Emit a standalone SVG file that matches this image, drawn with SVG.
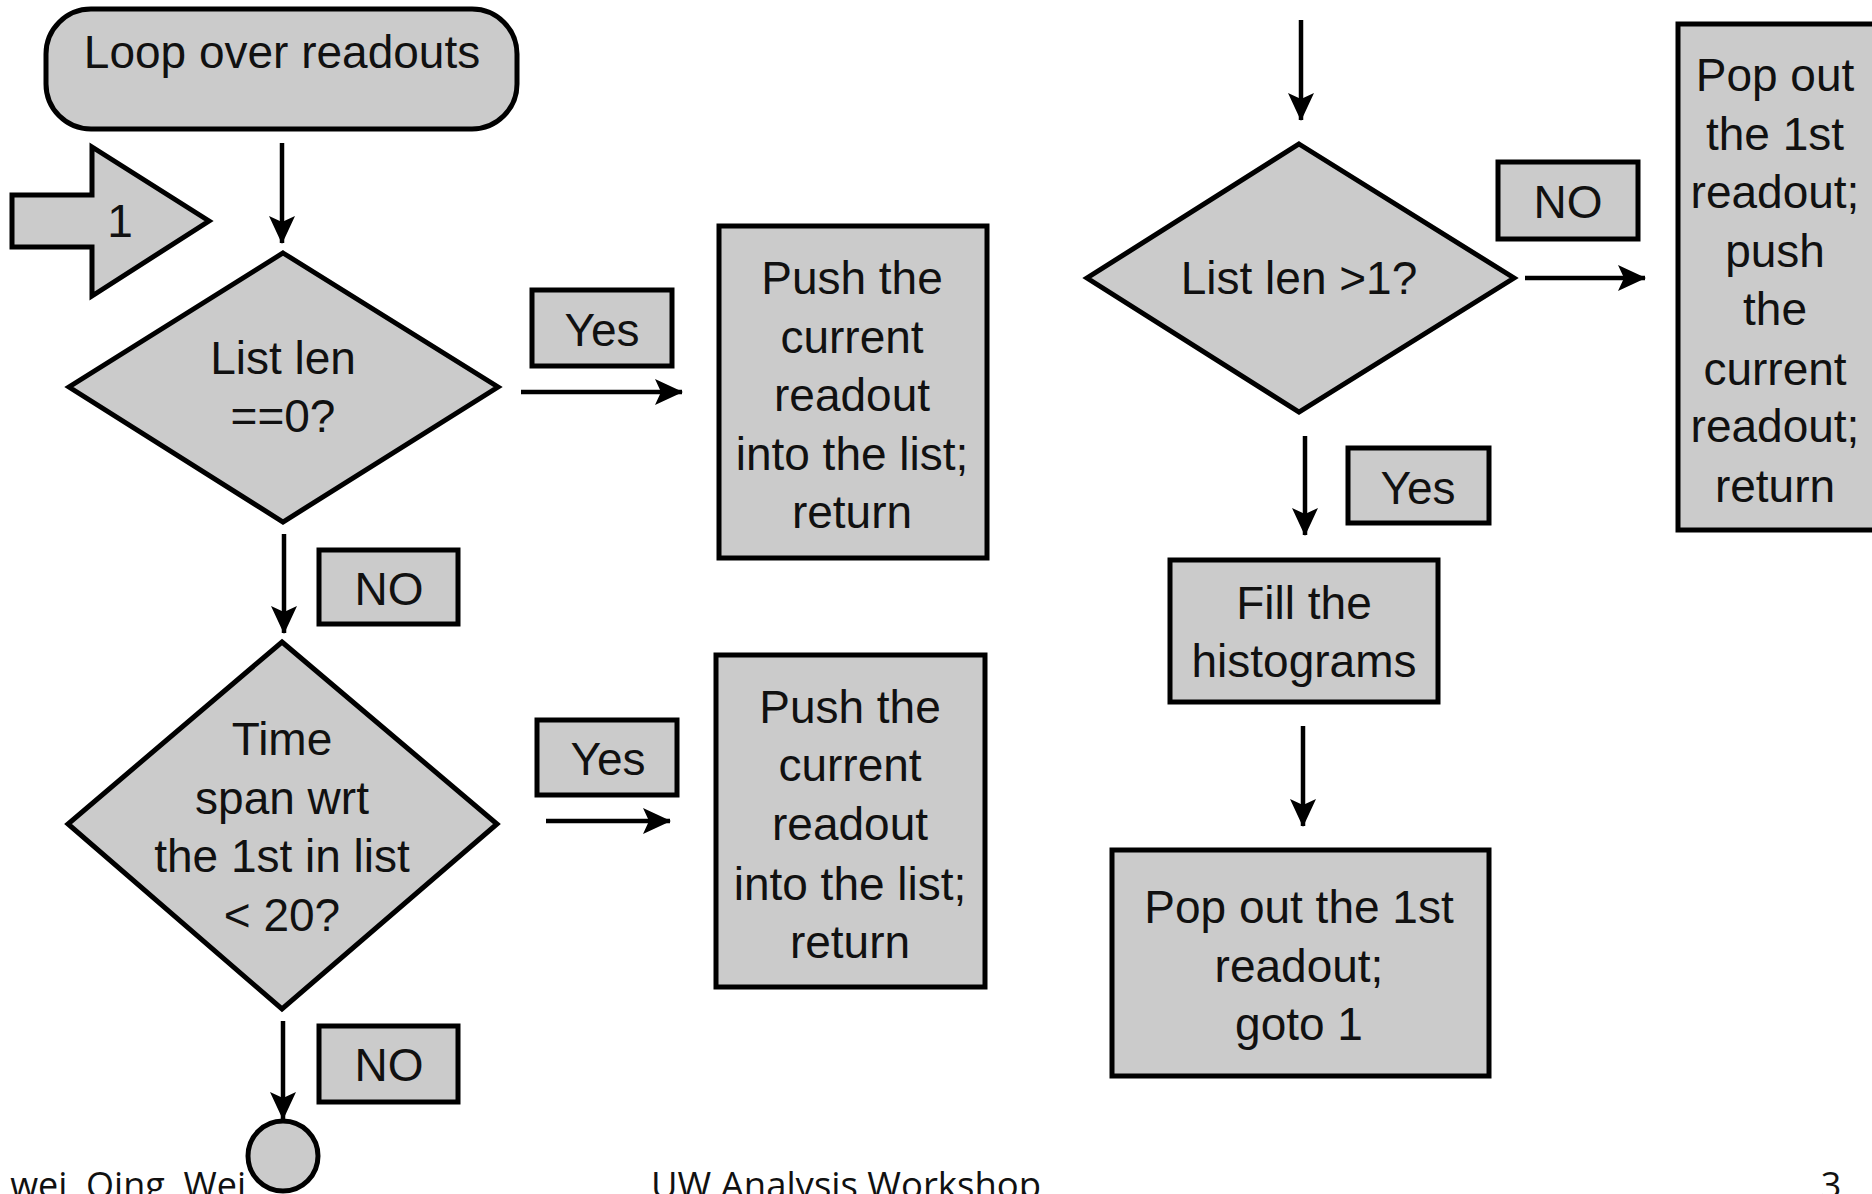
<svg xmlns="http://www.w3.org/2000/svg" width="1872" height="1194" viewBox="0 0 1872 1194">
<style>
.n{fill:#cbcbcb;stroke:#000;stroke-width:5;stroke-linejoin:miter}
.t{font-family:"Liberation Sans",Arial,sans-serif;font-size:46px;fill:#111;text-anchor:middle}
.c{stroke:#000;stroke-width:4.5;fill:none}
.f{font-family:"Open Sans","Liberation Sans",sans-serif;font-size:36px;fill:#111}
</style>
<defs>
<marker id="ah" viewBox="0 0 28 26" refX="27" refY="13" markerWidth="28" markerHeight="26" markerUnits="userSpaceOnUse" orient="auto">
<path d="M0,0 L28,13 L0,26 L6,13 Z" fill="#000"/>
</marker>
</defs>
<rect width="1872" height="1194" fill="#fff"/>

<g id="connectors">
<line class="c" x1="282" y1="143" x2="282" y2="243" marker-end="url(#ah)"/>
<line class="c" x1="521" y1="392" x2="682" y2="392" marker-end="url(#ah)"/>
<line class="c" x1="284" y1="534" x2="284" y2="633" marker-end="url(#ah)"/>
<line class="c" x1="546" y1="821" x2="670" y2="821" marker-end="url(#ah)"/>
<line class="c" x1="283" y1="1021" x2="283" y2="1119" marker-end="url(#ah)"/>
<line class="c" x1="1301" y1="20" x2="1301" y2="120" marker-end="url(#ah)"/>
<line class="c" x1="1525" y1="278" x2="1645" y2="278" marker-end="url(#ah)"/>
<line class="c" x1="1305" y1="436" x2="1305" y2="535" marker-end="url(#ah)"/>
<line class="c" x1="1303" y1="726" x2="1303" y2="826" marker-end="url(#ah)"/>
</g>

<g id="loop">
<rect class="n" x="46" y="9" width="471" height="120" rx="45" ry="45"/>
<text class="t" x="282" y="68">Loop over readouts</text>
</g>

<g id="goto1">
<polygon class="n" points="12,195 92,195 92,147 209,221 92,296 92,247 12,247"/>
<text class="t" x="120" y="237">1</text>
</g>

<g id="diamond1">
<polygon class="n" points="283,253 498,387 283,522 69,387"/>
<text class="t" x="283" y="374">List len</text>
<text class="t" x="283" y="432">==0?</text>
</g>

<g id="yes1">
<rect class="n" x="532" y="290" width="140" height="76"/>
<text class="t" x="602" y="346">Yes</text>
</g>

<g id="push1">
<rect class="n" x="719" y="226" width="268" height="332"/>
<text class="t" x="852" y="294">Push the</text>
<text class="t" x="852" y="353">current</text>
<text class="t" x="852" y="411">readout</text>
<text class="t" x="852" y="470">into the list;</text>
<text class="t" x="852" y="528">return</text>
</g>

<g id="no1">
<rect class="n" x="319" y="550" width="139" height="74"/>
<text class="t" x="389" y="605">NO</text>
</g>

<g id="diamond2">
<polygon class="n" points="282,642 497,824 282,1009 68,824"/>
<text class="t" x="282" y="755">Time</text>
<text class="t" x="282" y="814">span wrt</text>
<text class="t" x="282" y="872">the 1st in list</text>
<text class="t" x="282" y="931">&lt; 20?</text>
</g>

<g id="yes2">
<rect class="n" x="537" y="720" width="140" height="75"/>
<text class="t" x="608" y="775">Yes</text>
</g>

<g id="push2">
<rect class="n" x="716" y="655" width="269" height="332"/>
<text class="t" x="850" y="723">Push the</text>
<text class="t" x="850" y="781">current</text>
<text class="t" x="850" y="840">readout</text>
<text class="t" x="850" y="900">into the list;</text>
<text class="t" x="850" y="958">return</text>
</g>

<g id="no2">
<rect class="n" x="319" y="1026" width="139" height="76"/>
<text class="t" x="389" y="1081">NO</text>
</g>

<g id="end">
<circle class="n" cx="283" cy="1156" r="35"/>
</g>

<g id="diamond3">
<polygon class="n" points="1299,144 1514,278 1299,412 1087,278"/>
<text class="t" x="1299" y="294">List len &gt;1?</text>
</g>

<g id="no3">
<rect class="n" x="1498" y="162" width="140" height="77"/>
<text class="t" x="1568" y="218">NO</text>
</g>

<g id="pop1">
<rect class="n" x="1678" y="24" width="210" height="506"/>
<text class="t" x="1775" y="91">Pop out</text>
<text class="t" x="1775" y="150">the 1st</text>
<text class="t" x="1775" y="208">readout;</text>
<text class="t" x="1775" y="267">push</text>
<text class="t" x="1775" y="325">the</text>
<text class="t" x="1775" y="385">current</text>
<text class="t" x="1775" y="442">readout;</text>
<text class="t" x="1775" y="502">return</text>
</g>

<g id="yes3">
<rect class="n" x="1348" y="448" width="141" height="75"/>
<text class="t" x="1418" y="504">Yes</text>
</g>

<g id="fill">
<rect class="n" x="1170" y="560" width="268" height="142"/>
<text class="t" x="1304" y="619">Fill the</text>
<text class="t" x="1304" y="677">histograms</text>
</g>

<g id="pop2">
<rect class="n" x="1112" y="850" width="377" height="226"/>
<text class="t" x="1299" y="923">Pop out the 1st</text>
<text class="t" x="1299" y="982">readout;</text>
<text class="t" x="1299" y="1040">goto 1</text>
</g>

<g id="footer">
<text class="f" x="246" y="1198" text-anchor="end">wei, Qing, Wei</text>
<text class="f" x="651" y="1198" textLength="390" lengthAdjust="spacingAndGlyphs">UW  Analysis Workshop</text>
<text class="f" x="1831" y="1198" text-anchor="middle">3</text>
</g>
</svg>
